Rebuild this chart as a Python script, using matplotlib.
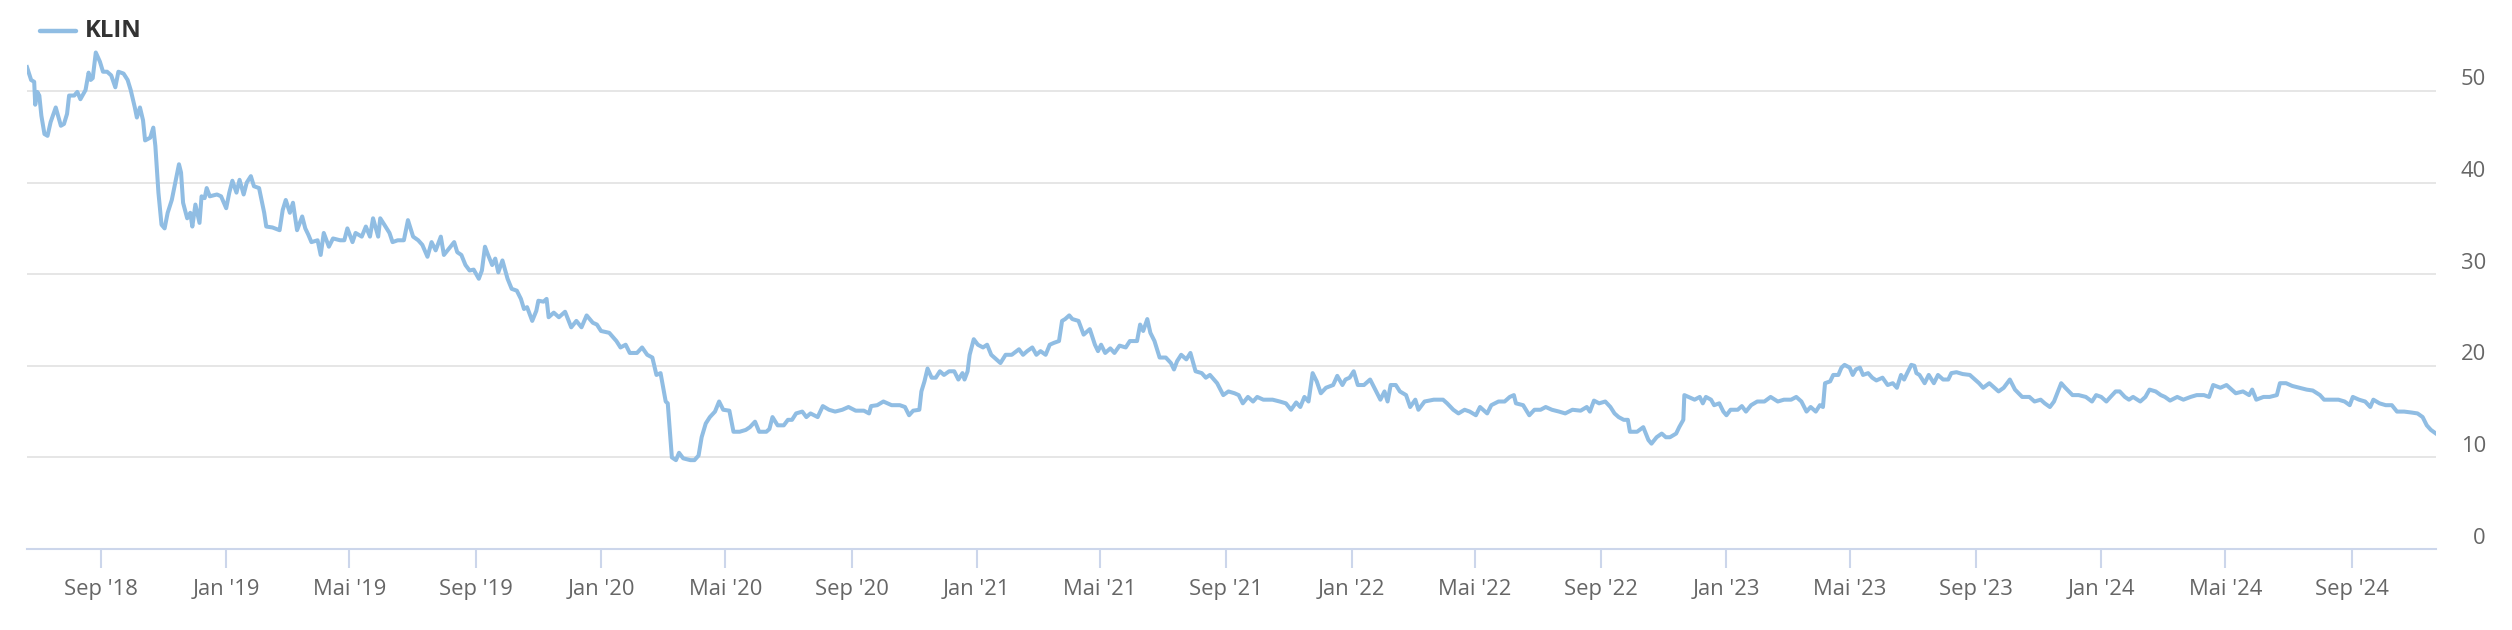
import matplotlib.pyplot as plt
import matplotlib.dates as mdates
from matplotlib.transforms import ScaledTranslation, blended_transform_factory
import pandas as pd

# Data: calendar day offset from the first quote, and the price
start_date = '2018-06-21'
days = [
    0, 4, 7, 8, 10, 12, 14, 17, 20, 23, 28, 33, 36, 39, 41, 46, 49, 52, 57, 60,
    62, 64, 67, 71, 74, 78, 82, 86, 89, 94, 98, 101, 105, 107, 110, 113, 115, 120, 123, 125,
    128, 131, 134, 137, 141, 145, 148, 150, 152, 156, 159, 161, 164, 168, 170, 173, 175, 178, 185, 189,
    194, 197, 200, 204, 207, 211, 214, 218, 221, 226, 231, 233, 239, 246, 249, 252, 256, 259, 263, 268,
    271, 274, 277, 283, 286, 289, 294, 298, 305, 309, 312, 317, 320, 326, 330, 334, 337, 342, 344, 348,
    353, 356, 361, 367, 371, 376, 381, 385, 390, 394, 398, 403, 406, 411, 416, 419, 423, 427, 431, 435,
    440, 443, 446, 449, 453, 456, 459, 463, 468, 472, 477, 481, 484, 487, 492, 496, 498, 503, 506, 508,
    513, 518, 524, 530, 535, 540, 545, 551, 555,
    559, 567, 574, 578, 583, 587, 594, 599, 604, 609, 613, 617, 622, 624, 628, 632, 635, 639, 646, 650,
    654, 657, 661, 665, 670, 674, 678, 684, 688, 694, 700, 704, 709, 713, 720, 723, 726, 731, 737, 741,
    745, 749, 755, 759, 763, 770, 775, 781, 787, 794, 800, 807, 815, 820, 822, 828, 834, 842, 850, 855,
    859, 863, 869, 871, 874, 877, 881, 885, 889, 893, 898, 903, 907, 911, 913, 916, 918, 922, 926, 931,
    935, 939, 944, 948, 953, 959, 966, 970, 974, 979, 983, 987, 992, 996, 1000, 1005, 1008, 1011, 1015, 1018,
    1024, 1029, 1035, 1040, 1043, 1046, 1050, 1055, 1059, 1064, 1070, 1074, 1081, 1084, 1087, 1091, 1094, 1098, 1103, 1109,
    1114, 1117, 1120, 1124, 1129, 1133, 1138,
    1144, 1148, 1152, 1159, 1165, 1170, 1176, 1180, 1184, 1189, 1194, 1198, 1204, 1213, 1220, 1226, 1231, 1236, 1240, 1244,
    1248, 1252, 1256, 1260, 1265, 1272, 1276, 1281, 1284, 1288, 1292, 1296, 1302, 1308, 1313, 1318, 1322, 1325, 1328, 1333,
    1337, 1343, 1347, 1352, 1355, 1361, 1370, 1379, 1383, 1389, 1394, 1400, 1405, 1411, 1415, 1422, 1426, 1433, 1439, 1444,
    1448, 1450, 1457, 1463, 1468, 1474, 1479, 1485, 1492, 1498, 1505, 1513, 1519, 1522, 1526, 1531, 1537, 1542, 1546, 1550,
    1555, 1559, 1561, 1568, 1574, 1579, 1582, 1587, 1592, 1596, 1600, 1606, 1609, 1613, 1614, 1620, 1624, 1629, 1632, 1635,
    1640, 1643, 1648, 1652, 1655, 1659, 1666, 1670, 1674, 1679, 1685, 1692, 1698, 1705, 1711, 1718, 1723,
    1728, 1733, 1737, 1742, 1746, 1749, 1751, 1756, 1759, 1764, 1767, 1770, 1775, 1778, 1781, 1785, 1788, 1793, 1797, 1801,
    1807, 1812, 1817, 1821, 1825, 1828, 1831, 1835, 1838, 1840, 1843, 1848, 1852, 1857, 1861, 1866, 1871, 1874, 1879, 1885,
    1892, 1897, 1901, 1905, 1911, 1916, 1920, 1925, 1931, 1936, 1943, 1950, 1955, 1961, 1965, 1970, 1974, 1981, 1985, 1992,
    1998, 2005, 2011, 2015, 2020, 2025, 2029, 2034, 2038, 2043, 2047, 2051, 2058, 2063, 2067, 2073, 2078, 2082, 2087, 2094,
    2100, 2107, 2113, 2120, 2125, 2129, 2136, 2142, 2147, 2151, 2158, 2164, 2167, 2171, 2178, 2184, 2191, 2194, 2200, 2206,
    2213, 2220, 2226, 2233, 2237, 2244, 2251, 2257, 2262, 2265, 2271, 2277, 2282, 2285, 2291, 2297, 2303, 2308, 2315, 2322,
    2328, 2333, 2337, 2341, 2346,
]
prices = [
    52.6, 51.2, 51.0, 48.5, 49.9, 49.5, 47.3, 45.3, 45.1, 46.6, 48.2, 46.2, 46.4, 47.5, 49.5, 49.5, 49.9, 49.1, 50.1, 52.0,
    51.2, 51.4, 54.2, 53.2, 52.1, 52.1, 51.7, 50.4, 52.1, 51.9, 51.2, 50.1, 48.2, 47.1, 48.2, 46.8, 44.6, 44.9, 46.0, 44.0,
    38.9, 35.4, 35.0, 36.7, 38.1, 40.3, 42.0, 41.1, 37.8, 36.1, 36.7, 35.2, 37.6, 35.6, 38.5, 38.3, 39.4, 38.5, 38.7, 38.5,
    37.2, 38.9, 40.2, 38.9, 40.3, 38.7, 40.0, 40.7, 39.6, 39.4, 36.7, 35.2, 35.1, 34.8, 37.0, 38.1, 36.7, 37.8, 34.8, 36.3,
    35.0, 34.3, 33.5, 33.7, 32.1, 34.5, 33.0, 33.9, 33.7, 33.7, 35.0, 33.5, 34.5, 34.1, 35.2, 34.1, 36.1, 34.1, 36.1, 35.4,
    34.5, 33.5, 33.7, 33.7, 35.9, 34.1, 33.7, 33.2, 31.9, 33.5, 32.6, 34.1, 32.1, 32.8, 33.5, 32.4, 32.1, 31.0, 30.4, 30.5,
    29.5, 30.4, 33.0, 32.1, 31.0, 31.7, 30.2, 31.5, 29.5, 28.4, 28.2, 27.3, 26.2, 26.4, 24.9, 26.0, 27.1, 27.0, 27.3, 25.3,
    25.8, 25.3, 25.9, 24.2, 24.9, 24.2, 25.5, 24.7, 24.5,
    23.8, 23.6, 22.7, 22.0, 22.3, 21.4, 21.4, 22.0, 21.2, 20.9, 19.0, 19.2, 16.1, 15.9, 10.0, 9.7, 10.5, 9.9, 9.7, 9.7,
    10.2, 12.2, 13.7, 14.4, 15.0, 16.1, 15.2, 15.1, 12.8, 12.8, 13.0, 13.3, 13.9, 12.8, 12.8, 13.1, 14.4, 13.5, 13.5, 14.1,
    14.1, 14.8, 15.0, 14.4, 14.8, 14.4, 15.6, 15.2, 15.0, 15.2, 15.5, 15.1, 15.1, 14.8, 15.6, 15.7, 16.1, 15.7, 15.7, 15.5,
    14.6, 15.1, 15.2, 17.2, 18.3, 19.7, 18.7, 18.7, 19.4, 19.0, 19.4, 19.4, 18.5, 19.2, 18.5, 19.4, 21.2, 22.9, 22.3, 22.0,
    22.3, 21.2, 20.7, 20.3, 21.2, 21.2, 21.8, 21.2, 21.6, 22.0, 21.2, 21.6, 21.2, 22.3, 22.5, 22.7, 24.9, 25.1, 25.5, 25.1,
    24.9, 23.4, 24.0, 22.3, 21.6, 22.3, 21.4, 21.9, 21.4, 22.2, 22.0, 22.7, 22.7, 24.5, 23.8, 25.1, 23.6, 22.7, 20.9, 20.9,
    20.3, 19.6, 20.5, 21.2, 20.7, 21.4, 19.4,
    19.2, 18.7, 19.0, 18.1, 16.8, 17.2, 17.0, 16.8, 15.9, 16.6, 16.1, 16.6, 16.3, 16.3, 16.1, 15.9, 15.2, 16.0, 15.5, 16.6,
    16.1, 19.2, 18.3, 17.0, 17.6, 17.9, 18.9, 17.9, 18.5, 18.7, 19.4, 17.9, 17.9, 18.5, 17.4, 16.3, 17.2, 16.1, 17.9, 17.9,
    17.2, 16.8, 15.5, 16.3, 15.2, 16.1, 16.3, 16.3, 15.9, 15.2, 14.8, 15.2, 15.0, 14.6, 15.5, 14.8, 15.7, 16.1, 16.1, 16.6,
    16.8, 15.9, 15.7, 14.6, 15.2, 15.2, 15.5, 15.2, 15.0, 14.8, 15.2, 15.1, 15.5, 15.0, 16.2, 15.9, 16.1, 15.5, 14.8, 14.4,
    14.1, 14.1, 12.8, 12.8, 13.3, 11.9, 11.5, 12.2, 12.6, 12.2, 12.2, 12.6, 13.3, 14.1, 16.8, 16.5, 16.3, 16.6, 15.9, 16.6,
    16.3, 15.7, 15.9, 15.0, 14.6, 15.2, 15.2, 15.6, 15.0, 15.7, 16.1, 16.1, 16.6, 16.1, 16.3, 16.3, 16.6,
    16.1, 15.0, 15.5, 15.0, 15.7, 15.5, 18.1, 18.3, 19.0, 19.0, 19.8, 20.1, 19.8, 19.0, 19.6, 19.8, 19.0, 19.2, 18.7, 18.4,
    18.7, 17.9, 18.1, 17.6, 19.0, 18.5, 19.2, 20.1, 20.0, 19.2, 19.0, 18.1, 19.0, 18.1, 19.0, 18.5, 18.5, 19.2, 19.3, 19.1,
    19.0, 18.5, 18.1, 17.6, 18.1, 17.6, 17.2, 17.6, 18.5, 17.4, 16.6, 16.6, 16.1, 16.3, 15.9, 15.5, 16.1, 18.1, 17.6, 16.8,
    16.8, 16.6, 16.1, 16.8, 16.6, 16.1, 16.6, 17.2, 17.2, 16.6, 16.3, 16.6, 16.1, 16.6, 17.4, 17.2, 16.8, 16.6, 16.2, 16.6,
    16.3, 16.6, 16.8, 16.8, 16.6, 17.9, 17.6, 17.9, 17.4, 17.0, 17.2, 16.8, 17.4, 16.3, 16.6, 16.6, 16.8, 18.1, 18.1, 17.8,
    17.6, 17.4, 17.3, 16.8, 16.3, 16.3, 16.3, 16.1, 15.7, 16.6, 16.3, 16.1, 15.5, 16.3, 15.9, 15.7, 15.7, 15.0, 15.0, 14.9,
    14.8, 14.4, 13.5, 13.0, 12.6,
]
series_name = 'KLIN'
y_ticks = [0, 10, 20, 30, 40, 50]
month_names = {1: 'Jan', 5: 'Mai', 9: 'Sep'}

dates = pd.Timestamp(start_date) + pd.to_timedelta(days, unit='D')

plt.rcParams['font.family'] = ['Open Sans', 'DejaVu Sans']

W, H, DPI = 2512, 630, 100
fig = plt.figure(figsize=(W / DPI, H / DPI), dpi=DPI)
# plot area in pixels: x 27..2436, y 36..549
ax = fig.add_axes([27 / W, 1 - 549 / H, (2436 - 27) / W, (549 - 36) / H])

line_color = '#90bde3'
ax.plot(dates, prices, color=line_color, linewidth=2.9, solid_joinstyle='round')

ax.set_xlim(dates[0], dates[-1])
ax.set_ylim(0, 56)

# grid
for v in y_ticks[1:]:
    ax.axhline(v, color='#e6e6e6', linewidth=1.4, zorder=0)

for side in ['top', 'left', 'right']:
    ax.spines[side].set_visible(False)
ax.spines['bottom'].set_color('#ccd6eb')
ax.spines['bottom'].set_linewidth(1.5)

# x axis ticks: every 4 months, German month names
ax.xaxis.set_major_locator(mdates.MonthLocator(bymonth=[1, 5, 9]))
ax.xaxis.set_major_formatter(plt.FuncFormatter(
    lambda x, pos: "%s '%s" % (month_names[mdates.num2date(x).month], mdates.num2date(x).strftime('%y'))))
ax.tick_params(axis='x', length=13.5, width=1.5, color='#ccd6eb', labelcolor='#666666',
               labelsize=15.8, pad=8)

# y axis labels on the right, slightly above the grid lines
ax.set_yticks([])
trans = blended_transform_factory(ax.transAxes, ax.transData) + ScaledTranslation(0, 11 / DPI, fig.dpi_scale_trans)
for v in y_ticks:
    ax.text(1 + 50 / (2436 - 27), v, str(v), transform=trans, ha='right', va='center',
            fontsize=15.8, color='#666666')

# legend
fig.add_artist(plt.Line2D([40 / W, 76 / W], [1 - 31 / H, 1 - 31 / H], color=line_color, linewidth=3.2,
                          solid_capstyle='round'))
fig.text(85 / W, 1 - 31 / H, series_name, ha='left', va='center', fontsize=17.3,
         fontweight='bold', color='#333333')

fig.savefig('out.png', dpi=DPI, facecolor='white')
